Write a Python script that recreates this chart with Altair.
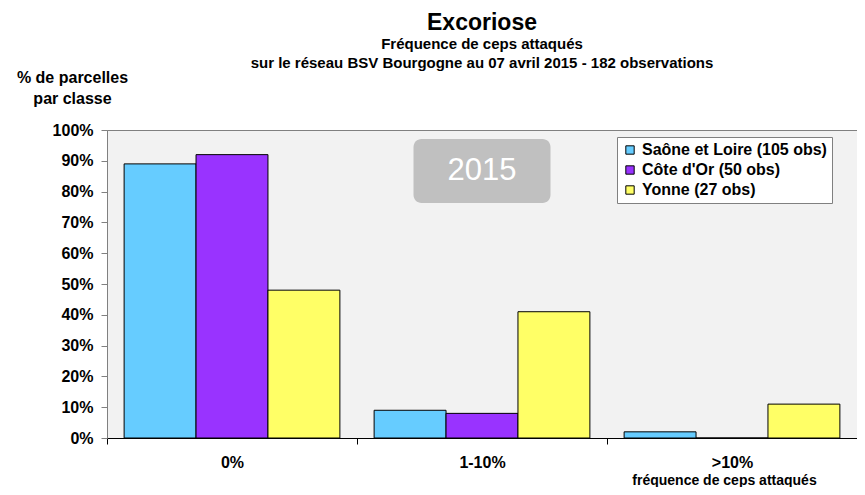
import altair as alt
import pandas as pd

categories = ["0%", "1-10%", ">10%"]
series = ["Saône et Loire (105 obs)", "Côte d'Or (50 obs)", "Yonne (27 obs)"]
colors = ["#66CCFF", "#9933FF", "#FFFF66"]
saone = [0.89, 0.09, 0.02]
cote = [0.92, 0.08, 0.00]
yonne = [0.48, 0.41, 0.11]
y_ticks = [0.0, 0.1, 0.2, 0.3, 0.4, 0.5, 0.6, 0.7, 0.8, 0.9, 1.0]

rows = []
for s, vals in zip(series, [saone, cote, yonne]):
    for c, v in zip(categories, vals):
        rows.append({"classe": c, "serie": s, "valeur": v})
df = pd.DataFrame(rows)

badge = pd.DataFrame({"classe": ["1-10%"], "y1": [0.971], "y2": [0.763], "yt": [0.866], "txt": ["2015"]})

FONT = "Liberation Sans"

xaxis = alt.Axis(title="fréquence de ceps attaqués", labelAngle=0,
                 labelFont=FONT, labelFontSize=16, labelFontWeight="bold", labelColor="black",
                 labelPadding=10, tickBand="extent", tickSize=6, tickColor="black",
                 domainColor="black", titleFont=FONT, titleFontSize=14, titleFontWeight="bold",
                 titleColor="black", titleX=617, titleY=42, titleAlign="center",
                 titleBaseline="middle")
yaxis = alt.Axis(title=["% de parcelles", "par classe"], values=y_ticks, tickCount=11,
                 format=".0%", grid=False, labelOverlap=False, labelFont=FONT, labelFontSize=16,
                 labelFontWeight="bold", labelColor="black", labelPadding=8, tickSize=6,
                 tickColor="#808080", domainColor="#808080", titleAngle=0, titleX=-35,
                 titleY=-53, titleAlign="center", titleBaseline="middle", titleFont=FONT,
                 titleFontSize=16, titleFontWeight="bold", titleColor="black",
                 titleLineHeight=21)
xscale = alt.Scale(paddingInner=0, paddingOuter=0)
yscale = alt.Scale(domain=[0, 1])

bars = alt.Chart(df).mark_bar(stroke="black", strokeWidth=1).encode(
    x=alt.X("classe:N", sort=categories, scale=xscale, axis=xaxis),
    xOffset=alt.XOffset("serie:N", sort=series, scale=alt.Scale(paddingInner=0, paddingOuter=0.238)),
    y=alt.Y("valeur:Q", scale=yscale, axis=yaxis),
    color=alt.Color("serie:N", sort=series, scale=alt.Scale(domain=series, range=colors),
                    legend=alt.Legend(title=None, orient="none", legendX=510, legendY=7,
                                      fillColor="white", strokeColor="#808080", padding=5,
                                      symbolType="square", symbolSize=70, symbolStrokeColor="black",
                                      symbolStrokeWidth=1, labelFont=FONT, labelFontSize=16,
                                      labelFontWeight="bold", labelColor="black", rowPadding=4,
                                      labelLimit=400)),
)

box = alt.Chart(badge).mark_bar(color="#C0C0C0", cornerRadius=8, width=137).encode(
    x=alt.X("classe:N", sort=categories, scale=xscale, axis=xaxis),
    y=alt.Y("y1:Q", scale=yscale, axis=yaxis), y2="y2:Q")
label = alt.Chart(badge).mark_text(color="white", font=FONT, fontSize=31, baseline="middle").encode(
    x=alt.X("classe:N", sort=categories, scale=xscale, axis=xaxis),
    y=alt.Y("yt:Q", scale=yscale, axis=yaxis), text="txt:N")

chart = alt.layer(bars, box, label).properties(
    width=750, height=308,
    autosize=alt.AutoSizeParams(type="none"),
    padding={"left": 99, "top": 122, "right": 0, "bottom": 49},
    background="white",
    title=alt.Title("Excoriose",
                    subtitle=["Fréquence de ceps attaqués",
                              "sur le réseau BSV Bourgogne au 07 avril 2015 - 182 observations"],
                    font=FONT, fontSize=23, fontWeight="bold", color="black",
                    subtitleFont=FONT, subtitleFontSize=15, subtitleFontWeight="bold",
                    subtitleColor="black", subtitleLineHeight=19, subtitlePadding=2,
                    anchor="middle", frame="group", offset=-2),
).configure_view(fill="#F2F2F2", stroke="#808080", strokeWidth=1)

chart.save("out.html", embed_options={"renderer": "svg", "actions": False})
